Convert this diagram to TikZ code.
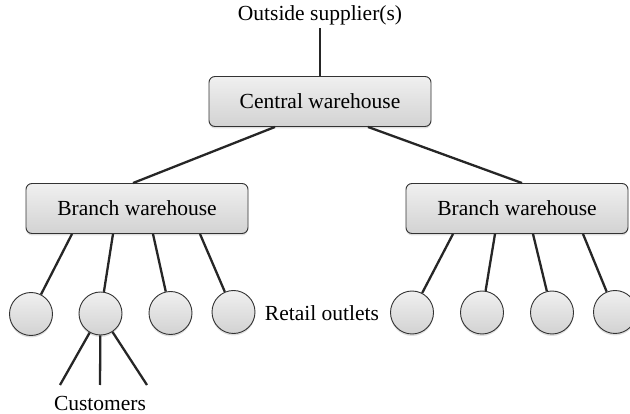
\documentclass[tikz,border=0pt]{standalone}
\usepackage{fontspec}
\setmainfont{Liberation Serif}
\usetikzlibrary{shadows}

\begin{document}
\begin{tikzpicture}[x=1pt, y=-1pt,
    every node/.style={font=\fontsize{21.5}{24}\selectfont},
    house/.style={draw=black!80, line width=0.9pt, rounded corners=6pt,
      top color=gray!12, bottom color=gray!35,
      minimum width=222pt, minimum height=50pt,
      drop shadow={opacity=0.25, shadow xshift=0pt, shadow yshift=-2pt}},
    outlet/.style={circle, draw=black!80, line width=0.9pt, inner sep=0pt,
      top color=gray!12, bottom color=gray!35, minimum size=43pt,
      drop shadow={opacity=0.25, shadow xshift=0pt, shadow yshift=-2pt}},
    link/.style={line width=2.3pt, black!85}]
  \useasboundingbox (0,0) rectangle (630,414);
  \clip (0,0) rectangle (630,414);

  % Supplier and warehouses
  \node (sup) at (320,15) {Outside supplier(s)};
  \node[house] (cw) at (320,101.5) {Central warehouse};
  \node[house] (lb) at (137,208.5) {Branch warehouse};
  \node[house] (rb) at (517,208.5) {Branch warehouse};

  \draw[link] (sup.south) -- (cw.north);
  \draw[link] ([xshift=-45pt]cw.south) -- ([xshift=-4pt]lb.north);
  \draw[link] ([xshift=48pt]cw.south) -- ([xshift=5pt]rb.north);

  % Retail outlets
  \node[outlet] (o1) at (31,314) {};
  \node[outlet] (o2) at (100.5,313.5) {};
  \node[outlet] (o3) at (170.5,313) {};
  \node[outlet] (o4) at (233.5,312) {};
  \node[outlet] (o5) at (412,312.5) {};
  \node[outlet] (o6) at (482,312.5) {};
  \node[outlet] (o7) at (552,312.5) {};
  \node[outlet] (o8) at (615,312) {};
  \node (ret) at (322,313) {Retail outlets};

  \draw[link] ([xshift=-65pt]lb.south) -- (o1);
  \draw[link] ([xshift=-24pt]lb.south) -- (o2);
  \draw[link] ([xshift=16pt]lb.south) -- (o3);
  \draw[link] ([xshift=63pt]lb.south) -- (o4);
  \draw[link] ([xshift=-64pt]rb.south) -- (o5);
  \draw[link] ([xshift=-22pt]rb.south) -- (o6);
  \draw[link] ([xshift=16pt]rb.south) -- (o7);
  \draw[link] ([xshift=66pt]rb.south) -- (o8);

  % Customers
  \node (cus) at (100,403) {Customers};
  \coordinate (k1) at (60,385);
  \coordinate (k2) at (100,385);
  \coordinate (k3) at (147,385);
  \draw[link] (o2) -- (k1);
  \draw[link] (o2) -- (k2);
  \draw[link] (o2) -- (k3);
\end{tikzpicture}
\end{document}
